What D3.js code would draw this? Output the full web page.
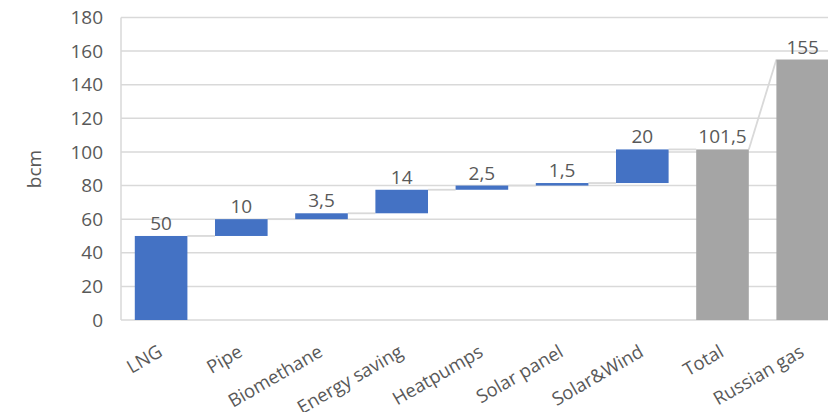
<!DOCTYPE html>
<html>
<head>
<meta charset="utf-8">
<script src="https://cdn.jsdelivr.net/npm/d3@7"></script>
<style>
  html, body { margin: 0; padding: 0; background: #fff; }
  svg { display: block; font-family: "Open Sans", sans-serif; }
</style>
</head>
<body>
<svg id="chart" width="828" height="412"></svg>
<script>
// Gas supply replacement options (bcm)
const categories = ["LNG", "Pipe", "Biomethane", "Energy saving", "Heatpumps", "Solar panel", "Solar&Wind", "Total", "Russian gas"];
const values = [50, 10, 3.5, 14, 2.5, 1.5, 20, 101.5, 155];
const isTotal = [false, false, false, false, false, false, false, true, true];
const yTicks = [0, 20, 40, 60, 80, 100, 120, 140, 160, 180];

const svg = d3.select("#chart");
const W = 828, H = 412;
const plotLeft = 121, plotRight = 842.8, plotTop = 17.5, plotBottom = 320;

// Build waterfall segments: increments stack, totals start from zero
let running = 0;
const bars = categories.map((c, i) => {
  let start, end;
  if (isTotal[i]) { start = 0; end = values[i]; }
  else { start = running; end = running + values[i]; running = end; }
  return { cat: c, value: values[i], start, end, total: isTotal[i] };
});

const x = d3.scaleBand().domain(categories).range([plotLeft, plotRight])
  .paddingInner(0.344).paddingOuter(0.172);
const y = d3.scaleLinear().domain([0, 180]).range([plotBottom, plotTop]);

const grey = "#d9d9d9", textCol = "#595959";

// Horizontal gridlines
svg.append("g").selectAll("line").data(yTicks.slice(1)).join("line")
  .attr("x1", plotLeft).attr("x2", W)
  .attr("y1", d => y(d)).attr("y2", d => y(d))
  .attr("stroke", grey).attr("stroke-width", 1.5);

// Value axis line and category baseline
svg.append("line").attr("x1", plotLeft).attr("x2", plotLeft).attr("y1", y(180)).attr("y2", y(0))
  .attr("stroke", grey).attr("stroke-width", 1.5);
svg.append("line").attr("x1", plotLeft).attr("x2", W).attr("y1", y(0)).attr("y2", y(0))
  .attr("stroke", grey).attr("stroke-width", 1.5);

// Tick labels
const yAxis = d3.axisLeft(y).tickValues(yTicks).tickSize(0).tickPadding(18);
const ga = svg.append("g").attr("transform", `translate(${plotLeft},0)`).call(yAxis);
ga.select(".domain").remove();
ga.selectAll("text").attr("font-size", 19).attr("fill", textCol)
  .attr("font-family", "Open Sans, sans-serif");

// Connector lines between consecutive bars
const conn = [];
for (let i = 0; i < bars.length - 1; i++) {
  const a = bars[i], b = bars[i + 1];
  const yb = b.total ? b.end : b.start;
  conn.push({ x1: x(a.cat) + x.bandwidth(), y1: y(a.end), x2: x(b.cat), y2: y(yb) });
}
svg.append("g").selectAll("line").data(conn).join("line")
  .attr("x1", d => d.x1).attr("y1", d => d.y1)
  .attr("x2", d => d.x2).attr("y2", d => d.y2)
  .attr("stroke", grey).attr("stroke-width", 1.8);

// Bars
svg.append("g").selectAll("rect").data(bars).join("rect")
  .attr("x", d => x(d.cat))
  .attr("width", x.bandwidth())
  .attr("y", d => y(d.end))
  .attr("height", d => y(d.start) - y(d.end))
  .attr("fill", d => d.total ? "#a5a5a5" : "#4472c4");

// Value labels
const fmt = v => String(v).replace(".", ",");
svg.append("g").selectAll("text").data(bars).join("text")
  .attr("x", d => x(d.cat) + x.bandwidth() / 2)
  .attr("y", d => y(d.end) - 6)
  .attr("text-anchor", "middle")
  .attr("font-size", 19).attr("fill", textCol)
  .text(d => fmt(d.value));

// Category labels, rotated
svg.append("g").selectAll("text").data(categories).join("text")
  .attr("transform", d => `translate(${x(d) + x.bandwidth() / 2 - 4},${plotBottom + 24}) rotate(-30)`)
  .attr("text-anchor", "end")
  .attr("dy", "0.71em")
  .attr("font-size", 18.5).attr("fill", textCol)
  .text(d => d);

// Axis title
svg.append("text")
  .attr("transform", `translate(41,169) rotate(-90)`)
  .attr("text-anchor", "middle")
  .attr("font-size", 19).attr("fill", textCol)
  .text("bcm");
</script>
</body>
</html>
